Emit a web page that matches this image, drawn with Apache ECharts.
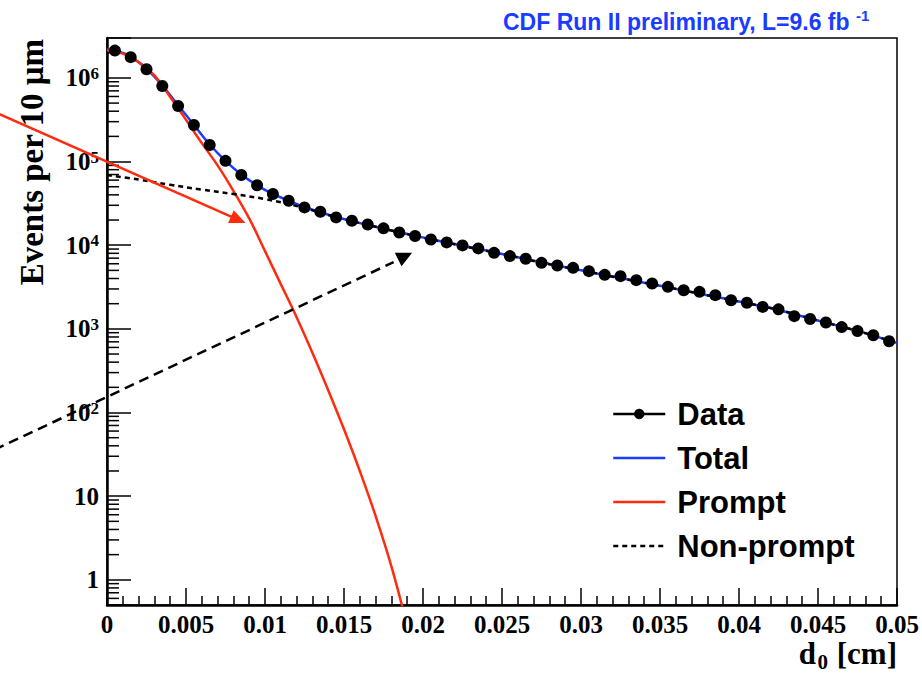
<!DOCTYPE html>
<html>
<head>
<meta charset="utf-8">
<title>Impact parameter distribution</title>
<script src="https://cdn.jsdelivr.net/npm/echarts@6/dist/echarts.min.js"></script>
<style>
  html, body { margin: 0; padding: 0; background: #fff; }
  #chart { width: 922px; height: 673px; }
</style>
</head>
<body>
<div id="chart"></div>
<script>
// d0 bin centres [cm] and event counts per 10 um
const binCenters = [
  0.0005, 0.0015, 0.0025, 0.0035, 0.0045, 0.0055, 0.0065, 0.0075, 0.0085, 0.0095,
  0.0105, 0.0115, 0.0125, 0.0135, 0.0145, 0.0155, 0.0165, 0.0175, 0.0185, 0.0195,
  0.0205, 0.0215, 0.0225, 0.0235, 0.0245, 0.0255, 0.0265, 0.0275, 0.0285, 0.0295,
  0.0305, 0.0315, 0.0325, 0.0335, 0.0345, 0.0355, 0.0365, 0.0375, 0.0385, 0.0395,
  0.0405, 0.0415, 0.0425, 0.0435, 0.0445, 0.0455, 0.0465, 0.0475, 0.0485, 0.0495
];
const dataCounts = [
  2.12e6, 1.77e6, 1.27e6, 8.0e5, 4.62e5, 2.74e5, 1.58e5, 1.02e5, 6.9e4, 5.2e4,
  4.09e4, 3.40e4, 2.83e4, 2.51e4, 2.15e4, 1.96e4, 1.77e4, 1.59e4, 1.42e4, 1.29e4,
  1.17e4, 1.08e4, 9950, 9160, 8110, 7410, 6880, 6150, 5730, 5360,
  4900, 4420, 4270, 3820, 3490, 3180, 2900, 2770, 2530, 2200,
  2050, 1830, 1710, 1420, 1310, 1190, 1050, 944, 839, 711
];

// Total fit
const totalX = [
  0, 0.0005, 0.0015, 0.0025, 0.0035, 0.0045, 0.0055, 0.0065, 0.0075, 0.0085, 0.0095,
  0.0105, 0.0115, 0.0125, 0.0135, 0.0145, 0.0155, 0.0165, 0.0175, 0.0185, 0.0195,
  0.0205, 0.0215, 0.0225, 0.0235, 0.0245, 0.0255, 0.0265, 0.0275, 0.0285, 0.0295,
  0.0305, 0.0315, 0.0325, 0.0335, 0.0345, 0.0355, 0.0365, 0.0375, 0.0385, 0.0395,
  0.0405, 0.0415, 0.0425, 0.0435, 0.0445, 0.0455, 0.0465, 0.0475, 0.0485, 0.0495, 0.05
];
const totalValues = [
  2.2e6, 2.13e6, 1.8e6, 1.28e6, 8.1e5, 4.7e5, 2.75e5, 1.6e5, 1.02e5, 7.0e4, 5.2e4,
  4.1e4, 3.4e4, 2.86e4, 2.48e4, 2.17e4, 1.94e4, 1.75e4, 1.58e4, 1.43e4, 1.30e4,
  1.18e4, 1.08e4, 9900, 9050, 8250, 7500, 6850, 6250, 5700, 5250,
  4800, 4400, 4050, 3720, 3420, 3140, 2880, 2640, 2420, 2220,
  2030, 1850, 1680, 1500, 1330, 1190, 1060, 945, 835, 720, 680
];

// Prompt component
const promptX = [
  0, 0.001, 0.002, 0.003, 0.004, 0.005, 0.006, 0.007, 0.008, 0.009,
  0.010, 0.011, 0.012, 0.013, 0.014, 0.015, 0.016, 0.017, 0.018, 0.019
];
const promptValues = [
  2.14e6, 1.95e6, 1.55e6, 1.07e6, 5.9e5, 3.16e5, 1.66e5, 9.0e4, 4.47e4, 2.09e4,
  8500, 3430, 1380, 519, 185, 63, 20, 5.8, 1.45, 0.28
];

// Non-prompt component
const nonPromptX = [
  0, 0.002, 0.004, 0.006, 0.008, 0.010, 0.012, 0.014, 0.016, 0.018, 0.020, 0.0225,
  0.025, 0.0275, 0.030, 0.0325, 0.035, 0.0375, 0.040, 0.0425, 0.045, 0.0475, 0.050
];
const nonPromptValues = [
  6.9e4, 6.1e4, 5.27e4, 4.62e4, 4.09e4, 3.56e4, 2.95e4, 2.30e4, 1.84e4, 1.50e4, 1.23e4, 9800,
  7850, 6200, 5000, 4030, 3270, 2630, 2120, 1690, 1260, 944, 680
];

// Annotation arrows in (d0, events) coordinates
const promptArrow = [[-0.00712, 3.91e5], [0.00877, 1.84e4]];          // start, tip
const nonPromptArrow = [[-0.00712, 35.9], [0.01814, 6280], [0.01864, 5620]]; // start, line end, head tip

// Log-axis minor tick positions (2..9 x 10^n)
const yMinorTicks = [];
for (let e = -1; e <= 6; e++) {
  for (let m = 2; m <= 9; m++) {
    const v = m * Math.pow(10, e);
    if (v > 0.5 && v < 3e6) yMinorTicks.push(v);
  }
}

const SERIF = '"Liberation Serif", "Times New Roman", Times, serif';
const SANS = '"Liberation Sans", Arial, Helvetica, sans-serif';
const BLUE = '#1a3cff';
const RED = '#ff2b0f';

const pairs = (xs, ys) => xs.map((x, i) => [x, ys[i]]);

const chart = echarts.init(document.getElementById('chart'), null, { renderer: 'svg' });

const lineOnlyItem = name => ({ name: name, itemStyle: { opacity: 0 } });

const serifBold = size => ({ fontFamily: SERIF, fontWeight: 'bold', fontSize: size, fill: '#000' });

const option = {
  animation: false,
  backgroundColor: '#fff',
  title: {
    text: '{a|CDF Run II preliminary, L=9.6 fb }{s|-1}',
    left: 503,
    top: 8,
    padding: 0,
    textStyle: {
      rich: {
        a: { fontFamily: SANS, fontWeight: 'bold', fontSize: 23, color: BLUE, lineHeight: 28 },
        s: { fontFamily: SANS, fontWeight: 'bold', fontSize: 15, color: BLUE, lineHeight: 18, verticalAlign: 'top' }
      }
    }
  },
  grid: {
    left: 107, right: 25, top: 38, bottom: 68,
    show: true, borderColor: '#000', borderWidth: 1.5,
    outerBoundsMode: 'none'
  },
  legend: {
    orient: 'vertical',
    left: 612,
    top: 397,
    padding: 0,
    itemWidth: 52,
    itemHeight: 13,
    itemGap: 10,
    lineStyle: { width: 2.5 },
    textStyle: {
      fontFamily: SANS, fontWeight: 'bold', fontSize: 31, color: '#000',
      lineHeight: 34, padding: [0, 0, 0, 7]
    },
    data: [
      { name: 'Data', lineStyle: { width: 2.5, color: '#000' } },
      lineOnlyItem('Total'), lineOnlyItem('Prompt'), lineOnlyItem('Non-prompt')
    ]
  },
  xAxis: {
    type: 'value',
    min: 0, max: 0.05, interval: 0.005,
    axisLine: { onZero: false, lineStyle: { color: '#000', width: 2.5 } },
    axisTick: { inside: true, length: 17, lineStyle: { color: '#000', width: 1.5 } },
    minorTick: { show: true, splitNumber: 5, length: 9, lineStyle: { color: '#000', width: 1.5 } },
    splitLine: { show: false },
    minorSplitLine: { show: false },
    axisLabel: { margin: 7, fontFamily: SERIF, fontWeight: 'bold', fontSize: 25, color: '#000', lineHeight: 24 }
  },
  yAxis: {
    type: 'log',
    logBase: 10,
    min: 0.5, max: 3e6,
    axisLine: { lineStyle: { color: '#000', width: 2.5 } },
    axisTick: { inside: true, length: 24, lineStyle: { color: '#000', width: 1.5 } },
    splitLine: { show: false },
    axisLabel: {
      margin: 8,
      formatter: function (v) {
        const e = Math.log10(v);
        const r = Math.round(e);
        if (Math.abs(e - r) > 1e-6) return '';
        if (r === 0) return '{b|1}';
        if (r === 1) return '{b|10}';
        return '{b|10}{s|' + r + '}';
      },
      rich: {
        b: { fontFamily: SERIF, fontWeight: 'bold', fontSize: 25, color: '#000', lineHeight: 26 },
        s: { fontFamily: SERIF, fontWeight: 'bold', fontSize: 17, color: '#000', lineHeight: 17, verticalAlign: 'top' }
      }
    }
  },
  series: [
    {
      name: 'Total', type: 'line', z: 2,
      data: pairs(totalX, totalValues),
      symbol: 'none', smooth: 0.4,
      lineStyle: { color: BLUE, width: 2.5 },
      itemStyle: { color: BLUE }
    },
    {
      name: 'Prompt', type: 'line', z: 3,
      data: pairs(promptX, promptValues),
      symbol: 'none', smooth: 0.4,
      lineStyle: { color: RED, width: 2.5 },
      itemStyle: { color: RED }
    },
    {
      name: 'Non-prompt', type: 'line', z: 4,
      data: pairs(nonPromptX, nonPromptValues),
      symbol: 'none', smooth: 0.4,
      lineStyle: { color: '#000', width: 2.5, type: [5, 4] },
      itemStyle: { color: '#000' }
    },
    {
      name: 'Data', type: 'line', z: 5,
      data: pairs(binCenters, dataCounts),
      symbol: 'circle', symbolSize: 12, showSymbol: true,
      lineStyle: { width: 0, color: '#000' },
      itemStyle: { color: '#000' }
    },
    {
      // minor ticks on the log axis
      type: 'custom', silent: true, z: 6,
      data: yMinorTicks.map(v => [0, v]),
      renderItem: function (params, api) {
        const p = api.coord([api.value(0), api.value(1)]);
        return {
          type: 'line',
          shape: { x1: p[0], y1: p[1], x2: p[0] + 12, y2: p[1] },
          style: { stroke: '#000', lineWidth: 1.5 }
        };
      }
    },
    {
      // annotation arrows
      type: 'custom', silent: true, z: 7, clip: false,
      data: [[0, 1]],
      renderItem: function (params, api) {
        const a0 = api.coord(promptArrow[0]);
        const a1 = api.coord(promptArrow[1]);
        const dx = a1[0] - a0[0], dy = a1[1] - a0[1];
        const len = Math.sqrt(dx * dx + dy * dy);
        const ux = dx / len, uy = dy / len;
        const hl = 16, hw = 7;
        const bx = a1[0] - ux * hl, by = a1[1] - uy * hl;

        const b0 = api.coord(nonPromptArrow[0]);
        const b1 = api.coord(nonPromptArrow[1]);
        const bt = api.coord(nonPromptArrow[2]);
        return {
          type: 'group',
          children: [
            {
              type: 'line',
              shape: { x1: a0[0], y1: a0[1], x2: bx + ux * 2, y2: by + uy * 2 },
              style: { stroke: RED, lineWidth: 2.5 }
            },
            {
              type: 'polygon',
              shape: { points: [[a1[0], a1[1]], [bx - uy * hw, by + ux * hw], [bx + uy * hw, by - ux * hw]] },
              style: { fill: RED }
            },
            {
              type: 'line',
              shape: { x1: b0[0], y1: b0[1], x2: b1[0], y2: b1[1] },
              style: { stroke: '#000', lineWidth: 2.5, lineDash: [10, 6] }
            },
            {
              type: 'polygon',
              shape: { points: [[bt[0], bt[1]], [bt[0] - 6.7, bt[1] - 13.3], [bt[0] + 10.6, bt[1] - 13.3]] },
              style: { fill: '#000' }
            }
          ]
        };
      }
    }
  ],
  graphic: [
    {
      // y-axis title, reading upward, right-aligned to the top of the frame
      type: 'text',
      x: 32, y: 39,
      rotation: Math.PI / 2,
      style: Object.assign(serifBold(33), {
        text: 'Events per 10 \u03bcm', align: 'right', verticalAlign: 'middle'
      })
    },
    {
      // x-axis title d0 [cm], right-aligned to the frame; subscript set lower
      type: 'group',
      children: [
        {
          type: 'text', x: 897, y: 653,
          style: Object.assign(serifBold(31), { text: ' [cm]', align: 'right', verticalAlign: 'middle', lineHeight: 30 })
        },
        {
          type: 'text', x: 828, y: 662,
          style: Object.assign(serifBold(21), { text: '0', align: 'right', verticalAlign: 'middle', lineHeight: 16 })
        },
        {
          type: 'text', x: 816, y: 653,
          style: Object.assign(serifBold(31), { text: 'd', align: 'right', verticalAlign: 'middle', lineHeight: 30 })
        }
      ]
    }
  ]
};

chart.setOption(option);
</script>
</body>
</html>
